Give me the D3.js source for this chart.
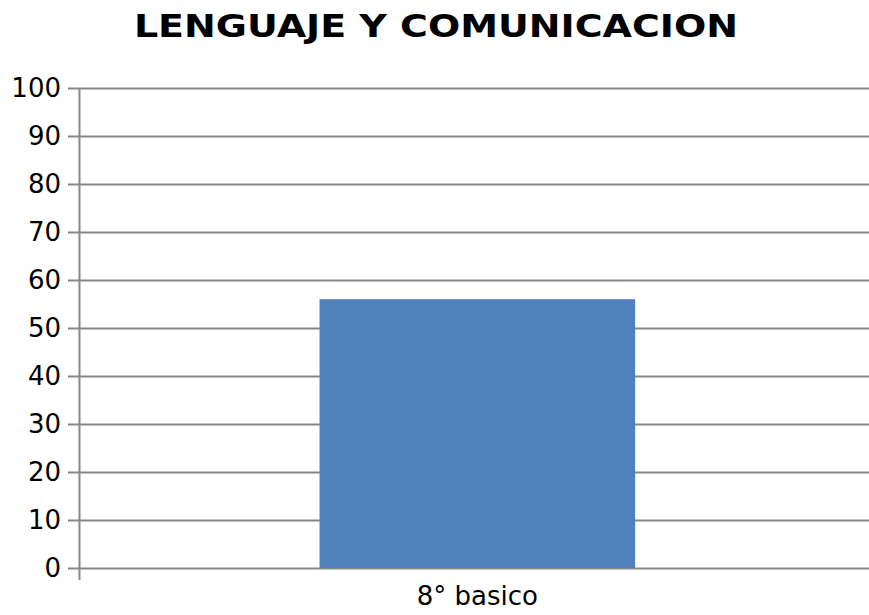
<!DOCTYPE html>
<html lang="es">
<head>
<meta charset="UTF-8">
<title>Lenguaje y Comunicacion</title>
<script src="https://d3js.org/d3.v7.min.js"></script>
<style>
    body { margin: 0; background: white; font-family: 'DejaVu Sans', sans-serif; }
</style>
</head>
<body>
<div id="chart"></div>
<script>
// data
const categories = ["8° basico"];
const values = [56];
const yTicks = [0, 10, 20, 30, 40, 50, 60, 70, 80, 90, 100];
const title = "LENGUAJE Y COMUNICACION";

const W = 869, H = 615;
const margin = {top: 88, right: 0, bottom: 47, left: 80};

const svg = d3.select("#chart").append("svg")
    .attr("width", W)
    .attr("height", H);

const x = d3.scaleBand()
    .domain(categories)
    .range([margin.left, W - margin.right])
    .paddingInner(0.6)
    .paddingOuter(0.295)
    .align(0.506);

const y = d3.scaleLinear()
    .domain([0, 100])
    .range([H - margin.bottom, margin.top]);

// gridlines
svg.append("g")
    .selectAll("line")
    .data(yTicks)
    .join("line")
        .attr("x1", margin.left - 12)
        .attr("x2", W)
        .attr("y1", d => y(d) + 0.5)
        .attr("y2", d => y(d) + 0.5)
        .attr("stroke", "#878787")
        .attr("stroke-width", 2);

// bars
svg.append("g")
    .selectAll("rect")
    .data(values)
    .join("rect")
        .attr("x", (d, i) => x(categories[i]))
        .attr("width", x.bandwidth())
        .attr("y", d => y(d))
        .attr("height", d => y(0) - y(d))
        .attr("fill", "#4F81BD");

// y axis line
svg.append("line")
    .attr("x1", margin.left - 0.5).attr("x2", margin.left - 0.5)
    .attr("y1", y(100))
    .attr("y2", y(0) + 12)
    .attr("stroke", "#878787")
    .attr("stroke-width", 2);

// y tick labels
svg.append("g")
    .selectAll("text")
    .data(yTicks)
    .join("text")
        .attr("x", margin.left - 19)
        .attr("y", d => y(d))
        .attr("dy", "0.35em")
        .attr("text-anchor", "end")
        .style("font-size", "26px")
        .attr("fill", "black")
        .text(d => d);

// x labels
svg.append("g")
    .selectAll("text")
    .data(categories)
    .join("text")
        .attr("x", d => x(d) + x.bandwidth() / 2)
        .attr("y", 605)
        .attr("text-anchor", "middle")
        .style("font-size", "26px")
        .attr("fill", "black")
        .text(d => d);

// title (stretched wide like the original)
svg.append("text")
    .attr("transform", "translate(436,37) scale(1.187,1)")
    .attr("text-anchor", "middle")
    .style("font-size", "32px")
    .style("font-weight", "bold")
    .attr("fill", "black")
    .text(title);
</script>
</body>
</html>
